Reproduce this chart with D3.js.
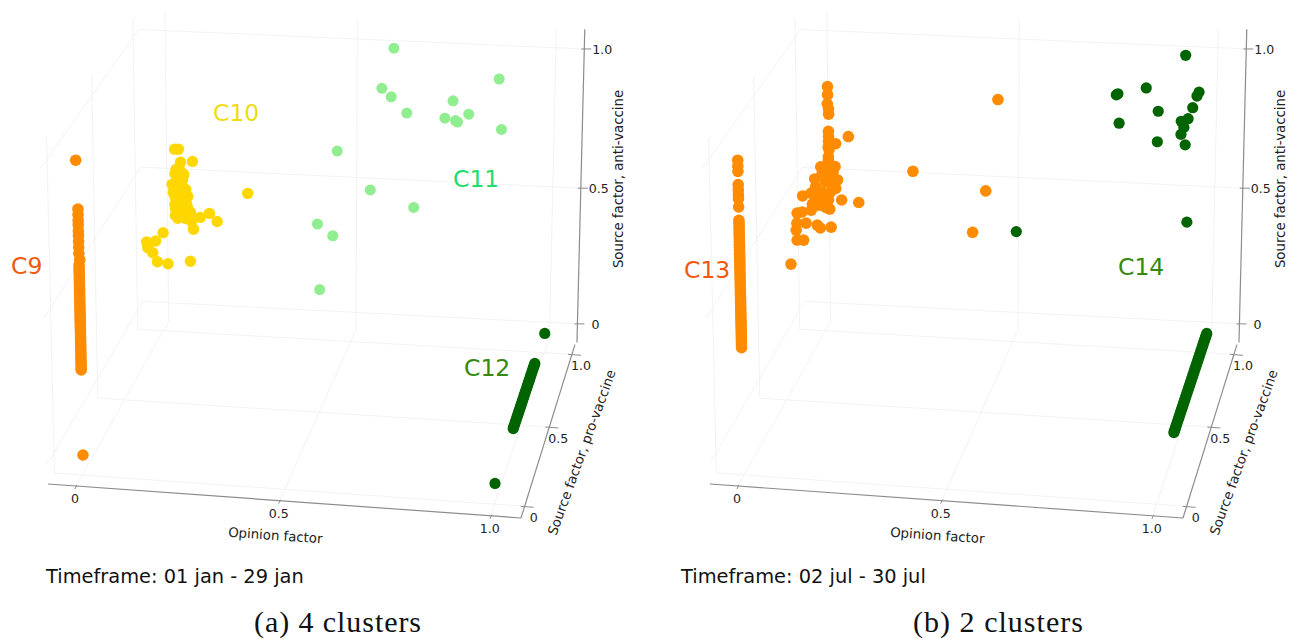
<!DOCTYPE html>
<html>
<head>
<meta charset="utf-8">
<title>Clusters</title>
<script src="https://cdn.jsdelivr.net/npm/d3@7"></script>
<style>
  html, body { margin: 0; padding: 0; background: #fff; }
  text { font-family: "DejaVu Sans", sans-serif; }
</style>
</head>
<body>
<div id="chart"></div>
<script>
// every point is [opinion factor, source factor pro-vaccine, source factor anti-vaccine]
const tickValues = [0, 0.5, 1];
const tickLabels = ["0", "0.5", "1.0"];
const axisRange = [-0.07, 1.07];

const c9Points = [
  [0, 0, 1], [0.003, 0, 0],
  [0.003, 0, 0.838], [0.003, 0, 0.82], [0.003, 0, 0.8], [0.003, 0, 0.785], [0.003, 0, 0.765],
  [0.003, 0, 0.75], [0.003, 0, 0.73], [0.003, 0, 0.71], [0.003, 0, 0.69], [0.005, 0, 0.668],
  [0.003, 0, 0.65], [0.003, 0, 0.64], [0.003, 0, 0.63], [0.003, 0, 0.62], [0.003, 0, 0.61],
  [0.003, 0, 0.6], [0.003, 0, 0.59], [0.003, 0, 0.58], [0.003, 0, 0.57], [0.003, 0, 0.56],
  [0.003, 0, 0.55], [0.003, 0, 0.54], [0.003, 0, 0.53], [0.003, 0, 0.52], [0.003, 0, 0.51],
  [0.003, 0, 0.5], [0.003, 0, 0.49], [0.003, 0, 0.48], [0.003, 0, 0.47], [0.003, 0, 0.46],
  [0.003, 0, 0.45], [0.003, 0, 0.44], [0.003, 0, 0.43], [0.003, 0, 0.42], [0.003, 0, 0.41],
  [0.003, 0, 0.4], [0.003, 0, 0.39], [0.003, 0, 0.38], [0.003, 0, 0.37], [0.003, 0, 0.36],
  [0.003, 0, 0.35], [0.003, 0, 0.34], [0.003, 0, 0.33], [0.003, 0, 0.32], [0.003, 0, 0.31],
  [0.003, 0, 0.3], [0.003, 0, 0.294]
];

const c10Points = [
  [0.077, 0.8, 0.692], [0.087, 0.8, 0.692], [0.123, 0.8, 0.651], [0.092, 0.8, 0.646], [0.08, 0.8, 0.62],
  [0.1, 0.8, 0.603], [0.077, 0.8, 0.605], [0.069, 0.8, 0.566], [0.105, 0.8, 0.55], [0.072, 0.8, 0.537],
  [0.088, 0.8, 0.578], [0.095, 0.8, 0.517], [0.107, 0.8, 0.496], [0.076, 0.8, 0.494], [0.078, 0.8, 0.477],
  [0.117, 0.8, 0.468], [0.083, 0.8, 0.445], [0.104, 0.8, 0.446], [0.119, 0.8, 0.436], [0.142, 0.8, 0.452],
  [0.166, 0.8, 0.468], [0.186, 0.8, 0.44], [0.124, 0.8, 0.408], [0.266, 0.8, 0.546], [0.044, 0.8, 0.39],
  [0.024, 0.8, 0.359], [0, 0.8, 0.354], [0.003, 0.8, 0.333], [0.016, 0.8, 0.316], [0.028, 0.8, 0.284],
  [0.056, 0.8, 0.279], [0.115, 0.8, 0.292],
  [0.082, 0.8, 0.613], [0.092, 0.8, 0.613], [0.082, 0.8, 0.584], [0.097, 0.8, 0.584], [0.087, 0.8, 0.556],
  [0.097, 0.8, 0.556], [0.077, 0.8, 0.556], [0.092, 0.8, 0.541], [0.102, 0.8, 0.527], [0.077, 0.8, 0.52],
  [0.087, 0.8, 0.52], [0.102, 0.8, 0.506], [0.087, 0.8, 0.491], [0.097, 0.8, 0.477], [0.107, 0.8, 0.47],
  [0.082, 0.8, 0.47], [0.092, 0.8, 0.455], [0.077, 0.8, 0.455], [0.097, 0.8, 0.452],
  [0.087, 0.8, 0.505], [0.097, 0.8, 0.535], [0.11, 0.8, 0.525], [0.09, 0.8, 0.595], [0.11, 0.8, 0.482]
];

const c11Points = [
  [0.607, 1, 0.991], [0.577, 1, 0.849], [0.601, 1, 0.82], [0.641, 1, 0.765], [0.758, 1, 0.814],
  [0.738, 1, 0.752], [0.77, 1, 0.74], [0.765, 1, 0.745], [0.798, 1, 0.769], [0.873, 1, 0.896],
  [0.881, 1, 0.72], [0.463, 1, 0.62], [0.549, 1, 0.486], [0.661, 1, 0.43], [0.452, 1, 0.314],
  [0.412, 1, 0.354], [0.418, 1, 0.115]
];

const c12Points = [
  [1, 0, 0], [1, 1, 0],
  [1, 0.346, 0], [1, 0.36, 0], [1, 0.375, 0], [1, 0.39, 0], [1, 0.405, 0], [1, 0.42, 0],
  [1, 0.435, 0], [1, 0.45, 0], [1, 0.465, 0], [1, 0.48, 0], [1, 0.495, 0], [1, 0.51, 0],
  [1, 0.525, 0], [1, 0.54, 0], [1, 0.555, 0], [1, 0.57, 0], [1, 0.585, 0], [1, 0.6, 0],
  [1, 0.615, 0], [1, 0.63, 0], [1, 0.645, 0], [1, 0.66, 0], [1, 0.675, 0], [1, 0.69, 0],
  [1, 0.705, 0], [1, 0.72, 0], [1, 0.735, 0], [1, 0.75, 0], [1, 0.76, 0], [1, 0.775, 0], [1, 0.786, 0]
];

const c13Points = [
  [0, 0, 1], [0, 0, 0.98], [0, 0, 0.963], [0, 0, 0.919], [0, 0, 0.902], [0, 0, 0.885], [0, 0, 0.872],
  [0, 0, 0.845], [0, 0, 0.8], [0, 0, 0.79], [0, 0, 0.78], [0, 0, 0.77], [0, 0, 0.76], [0, 0, 0.75],
  [0, 0, 0.74], [0, 0, 0.73], [0, 0, 0.72], [0, 0, 0.71], [0, 0, 0.7], [0, 0, 0.69], [0, 0, 0.68],
  [0, 0, 0.67], [0, 0, 0.66], [0, 0, 0.65], [0, 0, 0.64], [0, 0, 0.63], [0, 0, 0.62], [0, 0, 0.61],
  [0, 0, 0.6], [0, 0, 0.59], [0, 0, 0.58], [0, 0, 0.57], [0, 0, 0.56], [0, 0, 0.55], [0, 0, 0.54],
  [0, 0, 0.53], [0, 0, 0.52], [0, 0, 0.51], [0, 0, 0.5], [0, 0, 0.49], [0, 0, 0.48], [0, 0, 0.47],
  [0, 0, 0.46], [0, 0, 0.45], [0, 0, 0.44], [0, 0, 0.43], [0, 0, 0.42], [0, 0, 0.41], [0, 0, 0.4],
  [0, 0, 0.39], [0, 0, 0.38], [0, 0, 0.37],
  [0.086, 0.65, 0.976], [0.086, 0.65, 0.948], [0.085, 0.65, 0.916], [0.088, 0.65, 0.898], [0.088, 0.65, 0.88],
  [0.087, 0.65, 0.82], [0.087, 0.65, 0.802], [0.087, 0.65, 0.785], [0.088, 0.65, 0.756], [0.086, 0.65, 0.731],
  [0.086, 0.65, 0.706], [0.086, 0.65, 0.685], [0.105, 0.65, 0.778], [0.138, 0.65, 0.805], [0.098, 0.65, 0.679],
  [0.069, 0.65, 0.67], [0.05, 0.65, 0.651], [0.109, 0.65, 0.651], [0.086, 0.65, 0.648], [0.052, 0.65, 0.623],
  [0.09, 0.65, 0.607], [0.069, 0.65, 0.606], [0.05, 0.65, 0.594], [0.018, 0.65, 0.589], [0.119, 0.65, 0.581],
  [0.085, 0.65, 0.579], [0.06, 0.65, 0.559], [0.04, 0.65, 0.54], [0.043, 0.65, 0.562], [0.088, 0.65, 0.547],
  [0.163, 0.65, 0.575], [0.016, 0.65, 0.532], [0.003, 0.65, 0.527], [0.026, 0.65, 0.493], [0.002, 0.65, 0.491],
  [0.055, 0.65, 0.488], [0.063, 0.65, 0.478], [0.091, 0.65, 0.483], [0, 0.65, 0.466], [0.002, 0.65, 0.431],
  [0.019, 0.65, 0.432], [0, 0.58, 0.378], [0.074, 0.65, 0.686], [0.096, 0.65, 0.628], [0.091, 0.65, 0.66],
  [0.078, 0.65, 0.643], [0.104, 0.65, 0.621], [0.065, 0.65, 0.588], [0.078, 0.65, 0.552], [0.103, 0.65, 0.698],
  [0.066, 0.65, 0.695], [0.04, 0.65, 0.6], [0.086, 0.65, 0.765], [0.086, 0.65, 0.72],
  [0.302, 0.65, 0.693], [0.453, 0.65, 0.489], [0.516, 0.65, 0.953], [0.486, 0.65, 0.636]
];

const c14Points = [
  [0.933, 1, 0.981], [0.836, 1, 0.863], [0.761, 1, 0.835], [0.765, 1, 0.839], [0.968, 1, 0.855],
  [0.963, 1, 0.841], [0.953, 1, 0.8], [0.867, 1, 0.783], [0.942, 1, 0.761], [0.925, 1, 0.751],
  [0.769, 1, 0.736], [0.932, 1, 0.73], [0.925, 1, 0.705], [0.866, 1, 0.676], [0.936, 1, 0.669],
  [0.944, 1, 0.396], [0.563, 0.65, 0.499],
  [1, 1, 0], [1, 0.985, 0], [1, 0.97, 0], [1, 0.955, 0], [1, 0.94, 0], [1, 0.925, 0], [1, 0.91, 0],
  [1, 0.895, 0], [1, 0.88, 0], [1, 0.865, 0], [1, 0.85, 0], [1, 0.835, 0], [1, 0.82, 0], [1, 0.805, 0],
  [1, 0.79, 0], [1, 0.775, 0], [1, 0.76, 0], [1, 0.745, 0], [1, 0.73, 0], [1, 0.715, 0], [1, 0.7, 0],
  [1, 0.685, 0], [1, 0.67, 0], [1, 0.655, 0], [1, 0.64, 0], [1, 0.625, 0], [1, 0.61, 0], [1, 0.595, 0],
  [1, 0.58, 0], [1, 0.565, 0], [1, 0.55, 0], [1, 0.535, 0], [1, 0.52, 0], [1, 0.505, 0], [1, 0.49, 0],
  [1, 0.475, 0], [1, 0.46, 0], [1, 0.445, 0], [1, 0.43, 0], [1, 0.415, 0], [1, 0.4, 0], [1, 0.385, 0],
  [1, 0.37, 0], [1, 0.355, 0], [1, 0.345, 0], [1, 0.33, 0], [1, 0.32, 0]
];

const panelA = {
  offset: 0,
  series: [
    { points: c9Points, color: "#ff8c00", r: 5.8 },
    { points: c10Points, color: "#ffd700", r: 5.7 },
    { points: c11Points, color: "#90ee90", r: 5.5 },
    { points: c12Points, color: "#006400", r: 5.6 }
  ],
  labels: [
    { text: "C9", x: 11, y: 274, color: "#f0590f" },
    { text: "C10", x: 213, y: 121, color: "#efdc14" },
    { text: "C11", x: 453, y: 187, color: "#22dd6e" },
    { text: "C12", x: 464, y: 376, color: "#338a0e" }
  ],
  timeframe: "Timeframe: 01 jan - 29 jan",
  timeX: 46,
  caption: "(a) 4 clusters",
  captionX: 254,
  captionLen: 167
};

const panelB = {
  offset: 662,
  series: [
    { points: c13Points, color: "#ff8c00", r: 5.8 },
    { points: c14Points, color: "#006400", r: 5.6 }
  ],
  labels: [
    { text: "C13", x: 684, y: 278, color: "#f0590f" },
    { text: "C14", x: 1118, y: 275, color: "#338a0e" }
  ],
  timeframe: "Timeframe: 02 jul - 30 jul",
  timeX: 681,
  caption: "(b) 2 clusters",
  captionX: 913,
  captionLen: 170
};

// scales from data to the unit box
const toBox = d3.scaleLinear().domain(axisRange).range([0, 1]);

// where the box corners land on the picture, plus the perspective weights
const origin = [48, 484], endX = [521, 518], endY = [143, 320], endZ = [40, 147];
const wx = -0.04, wy = 0.1, wz = -0.03;

function project(p) {
  const a = toBox(p[0]), b = toBox(p[1]), c = toBox(p[2]);
  const den = 1 + wx * a + wy * b + wz * c;
  const coord = i =>
    (origin[i]
      + a * (endX[i] * (1 + wx) - origin[i])
      + b * (endY[i] * (1 + wy) - origin[i])
      + c * (endZ[i] * (1 + wz) - origin[i])) / den;
  return [coord(0), coord(1)];
}

// back wall and vertical axis sit a little off the fitted box
function projectWall(p) {
  const a = toBox(p[0]), c = toBox(p[2]);
  const q = project(p);
  return [q[0] + a * 2, q[1] + a * (c * 6 - (1 - c) * 2)];
}

const svg = d3.select("#chart").append("svg")
  .attr("width", 1301)
  .attr("height", 639)
  .style("display", "block");

function drawLine(g, from, to, color, width, proj = project) {
  const a = proj(from), b = proj(to);
  g.append("line")
    .attr("x1", a[0]).attr("y1", a[1])
    .attr("x2", b[0]).attr("y2", b[1])
    .attr("stroke", color)
    .attr("stroke-width", width);
}

function drawPanel(panel) {
  const g = svg.append("g").attr("transform", `translate(${panel.offset},0)`);
  const lo = axisRange[0], hi = axisRange[1];
  const gridColor = "#f3f3f3";

  // grid on the floor and the two walls
  tickValues.forEach(t => {
    drawLine(g, [t, lo, lo], [t, hi, lo], gridColor, 1);
    drawLine(g, [lo, t, lo], [hi, t, lo], gridColor, 1);
    drawLine(g, [lo, t, lo], [lo, t, hi], gridColor, 1);
    drawLine(g, [lo, lo, t], [lo, hi, t], gridColor, 1);
    drawLine(g, [t, hi, lo], [t, hi, hi], gridColor, 1, projectWall);
    drawLine(g, [lo, hi, t], [hi, hi, t], gridColor, 1, projectWall);
  });

  // axis lines
  const axisColor = "#8c8c8c";
  drawLine(g, [lo, lo, lo], [hi, lo, lo], axisColor, 1.2);
  drawLine(g, [hi, lo, lo], [hi, hi, lo], axisColor, 1.2);
  drawLine(g, [hi, hi, lo], [hi, hi, hi], axisColor, 1.2, projectWall);

  const label = (x, y, text) => g.append("text")
    .attr("x", x).attr("y", y)
    .attr("text-anchor", "middle")
    .attr("font-size", 12.6)
    .attr("fill", "#222")
    .text(text);
  const tick = (x1, y1, x2, y2) => g.append("line")
    .attr("x1", x1).attr("y1", y1).attr("x2", x2).attr("y2", y2)
    .attr("stroke", axisColor).attr("stroke-width", 1);

  tickValues.forEach((t, i) => {
    const px = project([t, lo, lo]);
    tick(px[0] + 1, px[1] - 1, px[0] - 1, px[1] + 3);
    label(px[0] - 1, px[1] + 17, tickLabels[i]);

    const py = project([hi, t, lo]);
    tick(py[0] - 4, py[1], py[0] + 9, py[1] + 1);
    label(py[0] + 9, py[1] + 16, tickLabels[i]);

    const pz = projectWall([hi, hi, t]);
    tick(pz[0] - 3, pz[1], pz[0] + 7, pz[1]);
    label(pz[0] + 18, pz[1] + 5, tickLabels[i]);
  });

  // axis titles
  const title = (x, y, angle, text) => g.append("text")
    .attr("transform", `translate(${x},${y}) rotate(${angle})`)
    .attr("text-anchor", "middle")
    .attr("font-size", 13.3)
    .attr("fill", "#222")
    .text(text);
  title(275, 540, 4, "Opinion factor");
  title(623, 179, -90, "Source factor, anti-vaccine");
  title(586, 454, -70, "Source factor, pro-vaccine");

  // clusters
  panel.series.forEach(s => {
    g.append("g").selectAll("circle")
      .data(s.points)
      .join("circle")
      .attr("cx", d => project(d)[0])
      .attr("cy", d => project(d)[1])
      .attr("r", s.r)
      .attr("fill", s.color);
  });

  // cluster names
  panel.labels.forEach(l => {
    svg.append("text")
      .attr("x", l.x).attr("y", l.y)
      .attr("font-size", 23.5)
      .attr("fill", l.color)
      .text(l.text);
  });

  svg.append("text")
    .attr("x", panel.timeX).attr("y", 583)
    .attr("font-size", 19.4)
    .attr("fill", "#111")
    .text(panel.timeframe);

  svg.append("text")
    .attr("x", panel.captionX).attr("y", 632)
    .attr("textLength", panel.captionLen)
    .style("font-family", '"Liberation Serif", serif')
    .attr("font-size", 30)
    .attr("fill", "#111")
    .text(panel.caption);
}

drawPanel(panelA);
drawPanel(panelB);
</script>
</body>
</html>
